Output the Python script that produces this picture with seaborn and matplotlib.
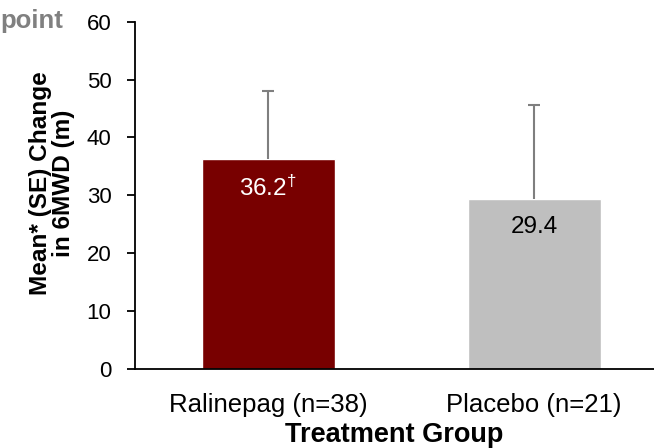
import matplotlib
matplotlib.use("Agg")
import matplotlib.pyplot as plt
import seaborn as sns
import pandas as pd

groups = ["Ralinepag (n=38)", "Placebo (n=21)"]
means = [36.2, 29.4]
se = [11.9, 16.2]
value_labels = ["36.2$^{\u2020}$", "29.4"]
bar_colors = ["#780000", "#BFBFBF"]
label_colors = ["white", "black"]
y_ticks = [0, 10, 20, 30, 40, 50, 60]

sns.set_theme(style="white")
plt.rcParams["font.family"] = ["Liberation Sans", "DejaVu Sans"]
plt.rcParams["mathtext.fontset"] = "custom"
plt.rcParams["mathtext.rm"] = "Liberation Sans"
plt.rcParams["mathtext.default"] = "regular"

df = pd.DataFrame({"group": groups, "mean": means})

fig = plt.figure(figsize=(6.54, 4.48), dpi=100)
ax = fig.add_axes([135 / 654, 1 - 369 / 448, 1 - 135 / 654, (369 - 21.7) / 448])

sns.barplot(data=df, x="group", y="mean", hue="group", palette=bar_colors,
            order=groups, hue_order=groups, width=0.5, errorbar=None,
            legend=False, saturation=1, ax=ax)

# upper half of the SE whiskers only
_, caps, _ = ax.errorbar(range(len(groups)), means, yerr=[[0] * len(se), se],
                         fmt="none", ecolor="#7F7F7F", elinewidth=1.5,
                         capsize=4.5, capthick=1.5, zorder=3)
caps[0].set_visible(False)

for i, (m, txt, c) in enumerate(zip(means, value_labels, label_colors)):
    ax.text(i, m - 4.9, txt, ha="center", va="center", color=c, fontsize=17.5)

ax.set_xlim(-0.5, 1.45)
ax.set_ylim(0, 60)
ax.set_yticks(y_ticks)
ax.tick_params(axis="y", direction="out", length=6, width=1.3, color="black",
               labelsize=16, pad=11, left=True)
ax.tick_params(axis="x", length=0, labelsize=18.5, pad=17)
for t in ax.get_xticklabels() + ax.get_yticklabels():
    t.set_color("black")

for side in ["top", "right"]:
    ax.spines[side].set_visible(False)
for side in ["left", "bottom"]:
    ax.spines[side].set_color("black")
    ax.spines[side].set_linewidth(1.3)

ax.set_xlabel("Treatment Group", fontsize=19.5, fontweight="bold", color="black", labelpad=4)
ax.set_ylabel("Mean* (SE) Change\nin 6MWD (m)", fontsize=17.6, fontweight="bold",
              color="black", labelpad=8, linespacing=1.05)
ax.yaxis.label.set_y(0.536)

fig.text(0.0, 1 - 21 / 448, "point", fontsize=18.5, fontweight="bold",
         color="#808080", ha="left", va="center")

fig.savefig("out.png", dpi=100)
